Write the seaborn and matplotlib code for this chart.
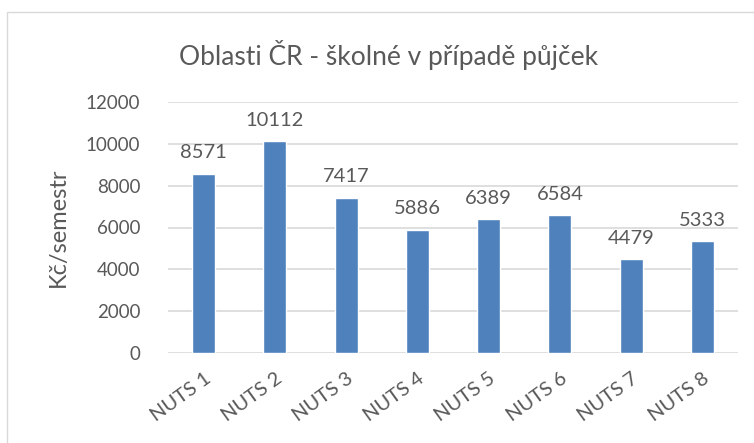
import matplotlib
matplotlib.use("Agg")
import matplotlib.pyplot as plt
import matplotlib.patches as patches
import seaborn as sns
import pandas as pd

# =============================
# Data
# =============================
categories = ["NUTS 1", "NUTS 2", "NUTS 3", "NUTS 4", "NUTS 5", "NUTS 6", "NUTS 7", "NUTS 8"]
values = [8571, 10112, 7417, 5886, 6389, 6584, 4479, 5333]
y_ticks = [0, 2000, 4000, 6000, 8000, 10000, 12000]

df = pd.DataFrame({"oblast": categories, "skolne": values})

# =============================
# Style
# =============================
sns.set_style("white")
plt.rcParams['font.family'] = ['Lato', 'DejaVu Sans']
TEXT = '#595959'
GRID = '#D9D9D9'
BAR = '#4F81BD'

fig = plt.figure(figsize=(7.54, 4.43), dpi=100)
ax = fig.add_axes([168 / 754, 1 - 353 / 443, (738 - 168) / 754, (353 - 102) / 443])

sns.barplot(data=df, x="oblast", y="skolne", color=BAR, width=0.32,
            saturation=1, ax=ax, zorder=3)

for c in ax.containers:
    ax.bar_label(c, labels=[str(v) for v in values], padding=9,
                 fontsize=14.5, color=TEXT)

ax.set_ylim(0, 12000)
ax.set_yticks(y_ticks)
ax.set_yticklabels([str(t) for t in y_ticks], fontsize=13.5, color=TEXT)
ax.tick_params(axis='y', length=0, pad=20)
ax.tick_params(axis='x', length=0, pad=12)
ax.set_xticks(range(len(categories)))
ax.set_xticklabels(categories, rotation=36, ha='right', rotation_mode='anchor',
                   fontsize=14.5, color=TEXT)
ax.set_xlim(-0.5, len(categories) - 0.5)

ax.yaxis.grid(True, color=GRID, linewidth=1.2, zorder=0)
ax.xaxis.grid(False)
for s in ax.spines.values():
    s.set_visible(False)

ax.set_xlabel("")
ax.set_ylabel("Kč/semestr", fontsize=17, color=TEXT, labelpad=12)

fig.text(389 / 754, 1 - 55 / 443, "Oblasti ČR - školné v případě půjček",
         ha='center', va='center', fontsize=19, color=TEXT)

# outer chart border
fig.patches.append(patches.Rectangle((7 / 754, -0.05), 1.1, 1 - 12 / 443 + 0.05,
                                     transform=fig.transFigure, fill=False,
                                     edgecolor=GRID, linewidth=1))

fig.savefig("out.png", dpi=100)
